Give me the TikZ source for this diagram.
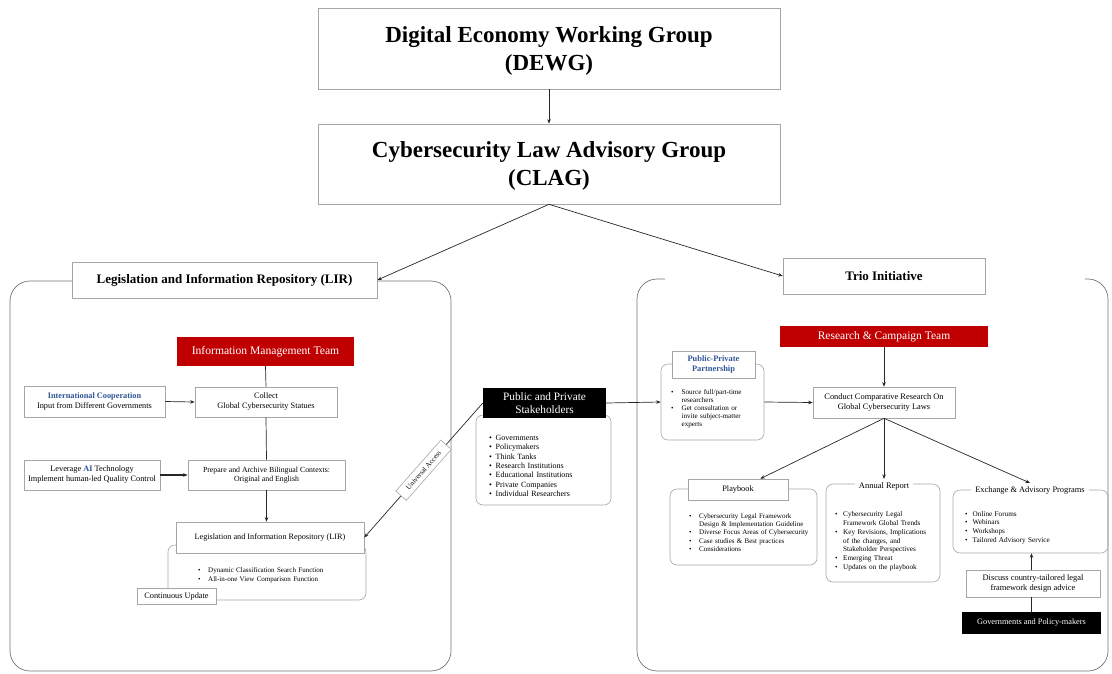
\documentclass[tikz,border=0pt]{standalone}
\usepackage{fontspec}
\setmainfont{Liberation Serif}
\usetikzlibrary{arrows.meta}
\definecolor{teamred}{HTML}{C00000}
\definecolor{coopblue}{HTML}{2F5597}
\definecolor{frame}{HTML}{A6A6A6}
\newlength{\bulind}
\setlength{\bulind}{10pt}
% one bulleted entry with a hanging indent; \newline keeps wrapped lines in the same paragraph
\newcommand{\li}[1]{\par\noindent\hangindent=\bulind\hangafter=1\makebox[\bulind][l]{\textbullet}#1\par}

\begin{document}
\begin{tikzpicture}[x=1pt,y=-1pt,
  every node/.style={inner sep=0pt, font=\fontsize{8.3}{10}\selectfont},
  conn/.style={draw=black!85, line width=0.7pt},
  arr/.style={conn, -{Stealth[length=4.5pt,width=3.5pt]}},
  box/.style={draw=frame, fill=white, line width=0.6pt, align=center},
  title/.style={box, font=\fontsize{23}{28}\selectfont\bfseries},
  header/.style={box, font=\fontsize{13}{15}\selectfont\bfseries},
  redbox/.style={fill=teamred, text=white, align=center, font=\fontsize{11.6}{13}\selectfont},
  blackbox/.style={fill=black, text=white, align=center},
  panel/.style={draw=black!55, line width=0.7pt, rounded corners=20pt},
  holder/.style={draw=frame, line width=0.6pt, rounded corners=7pt},
  list/.style={anchor=north west, align=left},
  captionbox/.style={fill=white, inner xsep=4pt, inner ysep=3pt, align=center},
]
\useasboundingbox (0,0) rectangle (1112,673);

% ---- big panels
\draw[panel] (10,281) rectangle (451,671);
\draw[panel] (665,279) -- (637,279) -- (637,671) -- (1108,671) -- (1108,279) -- (1085,279);

% ---- top of the hierarchy
\node[title, minimum width=462pt, minimum height=81pt, text depth=-2pt] (dewg) at (549,48.5)
  {Digital Economy Working Group\\(DEWG)};
\node[title, minimum width=462pt, minimum height=80pt, text depth=-2pt] (clag) at (549,164)
  {Cybersecurity Law Advisory Group\\(CLAG)};
\node[header, minimum width=305pt, minimum height=36pt] (lir) at (224.5,280)
  {Legislation and Information Repository (LIR)};
\node[header, minimum width=202pt, minimum height=36pt] (trio) at (884,276)
  {Trio Initiative};

\draw[arr] (dewg.south) -- (clag.north);
\draw[arr] (clag.south) -- (lir.east);
\draw[arr] (clag.south) -- (trio.west);

% ---- left panel: repository workflow
\node[redbox, minimum width=177pt, minimum height=29pt] (imt) at (265.5,351.5)
  {Information Management Team};
\node[box, minimum width=141pt, minimum height=31pt] (coop) at (94.5,401.5)
  {{\bfseries\color{coopblue}International Cooperation}\\Input from Different Governments};
\node[box, minimum width=142pt, minimum height=30pt] (collect) at (266,402)
  {Collect\\Global Cybersecurity Statues};
\node[box, minimum width=136pt, minimum height=30pt] (ai) at (92,475)
  {Leverage {\bfseries\color{coopblue}AI} Technology\\Implement human-led Quality Control};
\node[box, minimum width=157pt, minimum height=30pt, font=\fontsize{7.8}{9.5}\selectfont] (prep) at (266.5,475)
  {Prepare and Archive Bilingual Contexts:\\Original and English};
\node[holder, minimum width=198pt, minimum height=55pt] (lirlist) at (267,572.5) {};
\node[box, minimum width=188pt, minimum height=31pt, font=\fontsize{8.2}{10}\selectfont] (lirin) at (270,537.5)
  {Legislation and Information Repository (LIR)};
\setlength{\bulind}{10pt}
\node[list, text width=160pt, font=\fontsize{7}{9}\selectfont] (lirfn) at (198,563.5)
  {\li{Dynamic Classification Search Function}\li{All-in-one View Comparison Function}};
\node[box, minimum width=79pt, minimum height=16pt] (upd) at (176.5,596) {Continuous Update};

\draw[conn] (imt.south) -- (collect.north);
\draw[arr] (coop.east) -- (collect.west);
\draw[conn] (collect.south) -- (prep.north);
\draw[arr, line width=1.1pt] (ai.east) -- (prep.west);
\draw[arr] (prep.south) -- (prep.south |- lirin.north);

% ---- stakeholders in the middle
\node[holder, minimum width=135pt, minimum height=90pt] (sthlist) at (543.5,460) {};
\node[blackbox, minimum width=123pt, minimum height=30pt, font=\fontsize{11.3}{13}\selectfont] (sth) at (544.5,403)
  {Public and Private\\Stakeholders};
\setlength{\bulind}{6.5pt}
\node[list, text width=115pt, font=\fontsize{8}{9.3}\selectfont] (sthitems) at (489,431)
  {\li{Governments}\li{Policymakers}\li{Think Tanks}\li{Research Institutions}\li{Educational Institutions}\li{Private Companies}\li{Individual Researchers}};

\draw[arr] (sth.west) -- node[box, sloped, minimum width=68pt, minimum height=14pt,
  font=\fontsize{7}{8}\selectfont] (ua) {Universal Access} (lirin.east);

% ---- right panel: research and outreach
\node[holder, minimum width=103pt, minimum height=76pt] (pppbox) at (712.5,402) {};
\node[box, minimum width=83pt, minimum height=27pt, font=\fontsize{8.4}{10}\selectfont\bfseries, text=coopblue] (ppp) at (713.5,364.5)
  {Public-Private\\Partnership};
\setlength{\bulind}{10.5pt}
\node[list, text width=90pt, font=\fontsize{7.1}{8.1}\selectfont] (pppitems) at (671,386)
  {\li{Source full/part-time\newline researchers}\li{Get consultation or\newline invite subject-matter\newline experts}};

\node[redbox, minimum width=208pt, minimum height=21pt, font=\fontsize{11.5}{13}\selectfont] (rct) at (884,336.5)
  {Research \& Campaign Team};
\node[box, minimum width=142pt, minimum height=31pt, font=\fontsize{8.4}{10}\selectfont] (cond) at (884,402.5)
  {Conduct Comparative Research On\\Global Cybersecurity Laws};

\draw[arr] (sth.east) -- (pppbox.west);
\draw[arr] (pppbox.east) -- (cond.west);
\draw[arr] (rct.south) -- (cond.north);

% playbook
\node[holder, minimum width=147pt, minimum height=76pt] (pbbox) at (743.5,527) {};
\node[box, minimum width=100pt, minimum height=21pt] (pb) at (738,489.5) {Playbook};
\setlength{\bulind}{10pt}
\node[list, text width=130pt, font=\fontsize{7}{8.2}\selectfont] (pbitems) at (689,510)
  {\li{Cybersecurity Legal Framework\newline Design \& Implementation Guideline}\li{Diverse Focus Areas of Cybersecurity}\li{Case studies \& Best practices}\li{Considerations}};

% annual report
\node[holder, minimum width=114pt, minimum height=98pt] (annbox) at (883,533) {};
\node[captionbox, font=\fontsize{8.5}{10}\selectfont] (ann) at (884,486) {Annual Report};
\setlength{\bulind}{8pt}
\node[list, text width=105pt, font=\fontsize{7.2}{8.7}\selectfont] (annitems) at (835,508)
  {\li{Cybersecurity Legal\newline Framework Global Trends}\li{Key Revisions, Implications\newline of the changes, and\newline Stakeholder Perspectives}\li{Emerging Threat}\li{Updates on the playbook}};

% exchange programmes
\node[holder, minimum width=155pt, minimum height=63pt] (excbox) at (1030.5,521.5) {};
\node[captionbox, font=\fontsize{8.4}{10}\selectfont] (exc) at (1030,490) {Exchange \& Advisory Programs};
\setlength{\bulind}{7.5pt}
\node[list, text width=130pt, font=\fontsize{7.2}{8.8}\selectfont] (excitems) at (965,507)
  {\li{Online Forums}\li{Webinars}\li{Workshops}\li{Tailored Advisory Service}};

\node[box, minimum width=134pt, minimum height=27pt, font=\fontsize{8.4}{10}\selectfont] (disc) at (1033,583.5)
  {Discuss country-tailored legal\\framework design advice};
\node[blackbox, minimum width=139pt, minimum height=22pt] (gov) at (1031.5,623)
  {Governments and Policy-makers};

\draw[arr] (cond.south) -- ([xshift=-28pt]pb.north east);
\draw[arr] (cond.south) -- (ann.north);
\draw[arr] (cond.south) -- (exc.north);
\draw[arr] (gov.north |- disc.north) -- (gov.north |- excbox.south);
\draw[conn] (gov.north) -- (gov.north |- disc.south);

\end{tikzpicture}
\end{document}
